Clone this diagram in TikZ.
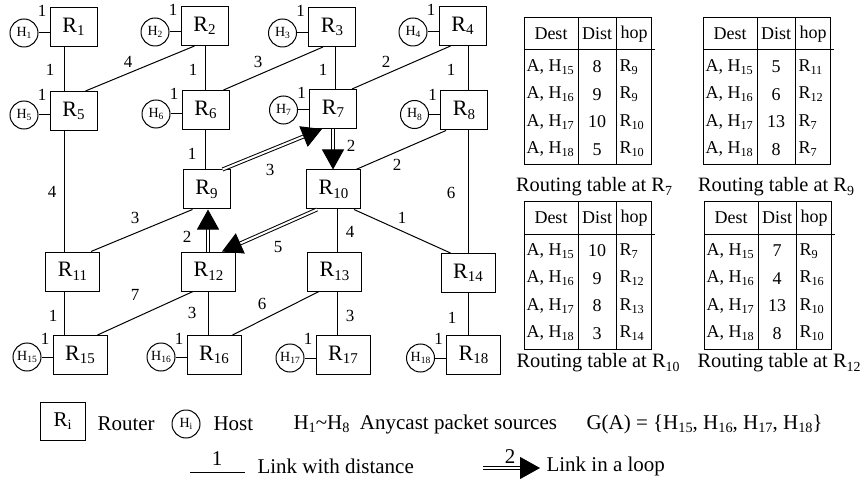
\documentclass[tikz,border=0pt]{standalone}
\usepackage{fontspec}
\setmainfont{Liberation Serif}
\usepackage{graphicx}
\usetikzlibrary{arrows.meta,positioning,calc}
\newcommand\lo[1]{\raisebox{-0.35ex}{\scalebox{0.68}{#1}}}
\newcommand\rtab[4]{%
\begin{scope}[shift={(#2,#3)}]
\draw (0,0) rectangle (127,147);
\draw (0,32) -- (131,32);
\draw (54,0) -- (54,147) (92,0) -- (92,147);
\node[tcell] (#1-h1) at (27,16) {Dest};
\node[tcell] (#1-h2) at (73,16) {Dist};
\node[tcell] (#1-h3) at (110,16) {hop};
\foreach \hh/\dd/\rr [count=\i] in {#4} {
  \pgfmathsetmacro\yy{49+(\i-1)*27.5}
  \node[tcell,anchor=west] (#1-a\i) at (2,\yy) {A, H\lo{\hh}};
  \node[tcell] (#1-d\i) at (73,\yy) {\dd};
  \node[tcell,anchor=west] (#1-r\i) at (95,\yy) {R\lo{\rr}};
}
\end{scope}}
\begin{document}
\begin{tikzpicture}[x=0.5pt,y=-0.5pt,line width=0.5pt,
 router/.style={draw,minimum width=23.5pt,minimum height=19.5pt,inner sep=0pt,font=\fontsize{11}{11}\selectfont},
 routerw/.style={router,minimum width=27pt},
 host/.style={draw,circle,minimum size=14pt,inner sep=0pt,font=\fontsize{7}{7}\selectfont},
 lbl/.style={inner sep=0pt,font=\fontsize{8.5}{8.5}\selectfont},
 tcell/.style={inner sep=0pt,font=\fontsize{9}{9}\selectfont},
 captxt/.style={inner sep=0pt,font=\fontsize{10.2}{10.2}\selectfont},
 legtxt/.style={inner sep=0pt,anchor=west,font=\fontsize{10.5}{10.5}\selectfont},
 loopedge/.style={double,double distance=1pt,-{Triangle[length=10pt,width=11pt]}}]
\fill[white] (0,0) rectangle (866,486);
\useasboundingbox (0,0) rectangle (866,486);
% routers
\node[router] (R1) at (73.5,27) {R\lo{1}};
\node[router] (R2) at (204.5,26) {R\lo{2}};
\node[router] (R3) at (332,27) {R\lo{3}};
\node[router] (R4) at (462.5,26) {R\lo{4}};
\node[router] (R5) at (73.5,111) {R\lo{5}};
\node[router] (R6) at (205.5,110) {R\lo{6}};
\node[router] (R7) at (333,109) {R\lo{7}};
\node[router] (R8) at (464,110.5) {R\lo{8}};
\node[router] (R9) at (206.5,189.5) {R\lo{9}};
\node[routerw] (R10) at (333.5,189.5) {R\lo{10}};
\node[routerw] (R11) at (72.5,271.5) {R\lo{11}};
\node[routerw] (R12) at (208.5,271.5) {R\lo{12}};
\node[routerw] (R13) at (334.5,271.5) {R\lo{13}};
\node[routerw] (R14) at (468,273) {R\lo{14}};
\node[routerw] (R15) at (80,355) {R\lo{15}};
\node[routerw] (R16) at (214,355) {R\lo{16}};
\node[routerw] (R17) at (343,355) {R\lo{17}};
\node[routerw] (R18) at (473.5,355) {R\lo{18}};
% hosts
\foreach \n/\rt/\dy in {1/R1/-3pt,2/R2/-3pt,3/R3/-3pt,4/R4/-3pt,5/R5/-2pt,6/R6/-2pt,7/R7/-0.5pt,8/R8/-2pt,15/R15/-1pt,16/R16/-1pt,17/R17/-1.5pt,18/R18/-1.5pt}{
  \node[host,left=5.5pt of \rt,yshift=\dy] (H\n) {H\lo{\n}};
  \draw (H\n.east) -- (H\n.east -| \rt.west);
  \node[lbl] (k\n) at ([xshift=-3.75pt,yshift=-2pt]\rt.north west) {1};
}
% columns
\coordinate (c1) at (64,0);
\coordinate (c2a) at (205,0);
\coordinate (c2b) at (208,0);
\coordinate (c3a) at (335,0);
\coordinate (c3b) at (337,0);
\coordinate (c4) at (468,0);
\draw (R1.south -| c1) -- (R5.north -| c1);
\draw (R5.south -| c1) -- (R11.north -| c1);
\draw (R11.south -| c1) -- (R15.north -| c1);
\draw (R2.south -| c2a) -- (R6.north -| c2a);
\draw (R6.south -| c2a) -- (R9.north -| c2a);
\draw (R12.south -| c2b) -- (R16.north -| c2b);
\draw (R3.south -| c3a) -- (R7.north -| c3a);
\draw (R10.south -| c3b) -- (R13.north -| c3b);
\draw (R13.south -| c3b) -- (R17.north -| c3b);
\draw (R4.south -| c4) -- (R8.north -| c4);
\draw (R8.south -| c4) -- (R14.north -| c4);
\draw (R14.south -| c4) -- (R18.north -| c4);
% diagonals
\draw ([xshift=7pt]R2.south west) -- ([xshift=-6pt]R5.north east);
\draw ([xshift=7.5pt]R3.south west) -- ([xshift=-3pt]R6.north east);
\draw ([xshift=6pt]R4.south west) -- ([xshift=-2.5pt]R7.north east);
\draw ([xshift=3pt]R8.south west) -- ([xshift=-2.5pt]R10.north east);
\draw ([xshift=5pt]R9.south west) -- ([xshift=-4.5pt]R11.north east);
\draw ([xshift=-3.5pt]R10.south east) -- ([xshift=5pt]R14.north west);
\draw ([xshift=6pt]R12.south west) -- ([xshift=-5pt]R15.north east);
\draw ([xshift=6pt]R13.south west) -- ([xshift=-4.5pt]R16.north east);
% loop links
\draw[loopedge] (R7.south) -- (R7.south |- R10.north);
\draw[loopedge] (R12.north -| c2b) -- (R9.south -| c2b);
\draw[loopedge] ([xshift=-4pt]R9.north east) -- ([xshift=6.5pt]R7.south west);
\draw[loopedge] ([xshift=5.5pt]R10.south west) -- ([xshift=-7pt]R12.north east);
% edge labels
\foreach \x/\y/\t [count=\j] in {50/70/1,128/62/4,193/70/1,258/62/3,323/70/1,386/62/2,451/70/1,52/192/4,192/154/1,351/146/2,270/170/3,397/165/2,451/193/6,135/218/3,187/237/2,278/247/5,350/232/4,402/218/1,53/316/1,135/295/7,192/313/3,262/304/6,350/316/3,452/318/1}{
  \node[lbl] (e\j) at (\x,\y) {\t};
}
% tables
\rtab{t7}{524}{18}{15/8/9,16/9/9,17/10/10,18/5/10}
\rtab{t9}{703}{18}{15/5/11,16/6/12,17/13/7,18/8/7}
\rtab{t10}{524}{202}{15/10/7,16/9/12,17/8/13,18/3/14}
\rtab{t12}{704}{202}{15/7/9,16/4/16,17/13/10,18/8/10}
\node[captxt] (cp7) at (594,187) {Routing table at R\lo{7}};
\node[captxt] (cp9) at (776,187) {Routing table at R\lo{9}};
\node[captxt] (cp10) at (598,363) {Routing table at R\lo{10}};
\node[captxt] (cp12) at (779,363) {Routing table at R\lo{12}};
% legend
\node[draw,minimum width=22.5pt,minimum height=19pt,inner sep=0pt,font=\fontsize{10.5}{10.5}\selectfont] (lgR) at (62.5,421) {R\lo{i}};
\node[legtxt] (lgRt) at (97,424) {Router};
\node[host] (lgH) at (186,424) {H\lo{i}};
\node[legtxt] (lgHt) at (213,424) {Host};
\node[legtxt] (lgS) at (293,424) {H\lo{1}\textasciitilde H\lo{8}\ \ Anycast packet sources};
\node[legtxt] (lgG) at (586,424) {G(A) = \{H\lo{15}, H\lo{16}, H\lo{17}, H\lo{18}\}};
\coordinate (lgL1) at (190,472);
\coordinate (lgL2) at (245,472);
\draw (lgL1) -- (lgL2);
\node[legtxt,anchor=center] (lgL) at (217,459) {1};
\node[legtxt] (lgLt) at (257,466) {Link with distance};
\coordinate (lgA1) at (483,468);
\coordinate (lgA2) at (540,468);
\draw[loopedge] (lgA1) -- (lgA2);
\node[legtxt,anchor=center] (lgA) at (510,457) {2};
\node[legtxt] (lgAt) at (546,466) {Link in a loop};
\end{tikzpicture}
\end{document}
